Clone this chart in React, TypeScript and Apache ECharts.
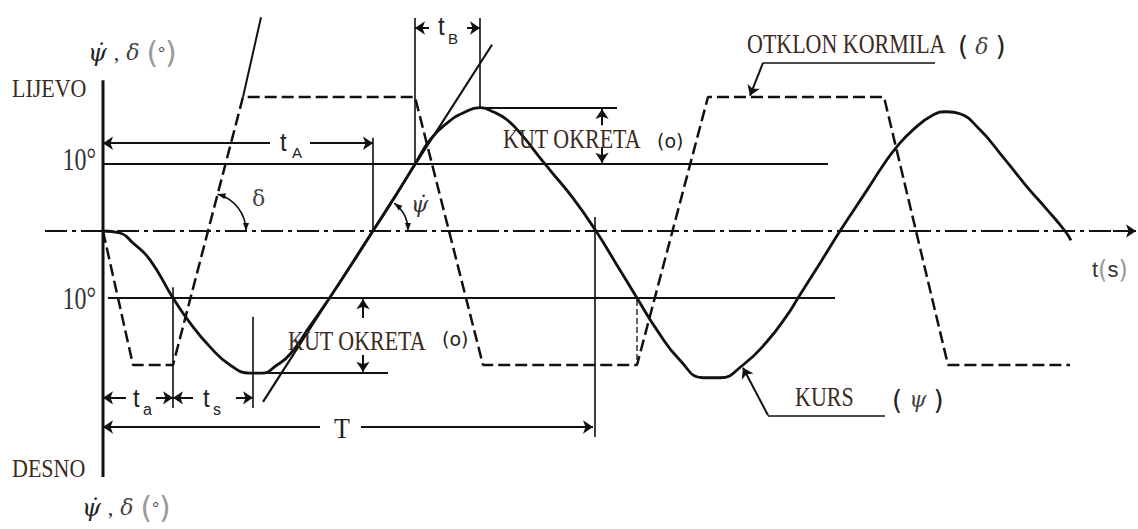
import { useEffect, useRef } from "react";
import * as echarts from "echarts";

// Zig-zag manoeuvre: time t (s, arbitrary units) vs. angle (degrees)
// Course ψ (solid curve)
const HEADING: [number, number][] = [
  [0, 0], [1.7, -0.3], [3.0, -1.8], [4.7, -4.3], [7.0, -10], [8.7, -13.7], [10.7, -17.3],
  [12.7, -20.0], [14.7, -21.2], [15.9, -21.2], [17.4, -20.0], [18.7, -18.4], [20.7, -14.2],
  [22.7, -9.9], [24.9, -4.9], [27.0, 0], [29.2, 5.1], [31.2, 10], [32.7, 13.6], [34.4, 16.1],
  [36.0, 17.6], [37.7, 18.4], [39.0, 17.8], [40.4, 16.6], [41.9, 14.3], [43.5, 11.3],
  [44.7, 9.1], [47.0, 4.9], [49.3, 0], [51.4, -5.1], [53.4, -10], [55.4, -14.8], [57.7, -19.3],
  [60.0, -21.9], [61.7, -21.9], [64.0, -20.0], [66.4, -16.5], [68.4, -12.6], [69.5, -10],
  [71.7, -4.8], [73.7, 0], [76.4, 6.1], [78.1, 10], [79.4, 12.6], [81.0, 15.1], [83.0, 17.3],
  [84.4, 17.8], [85.7, 17.5], [87.7, 15.1], [89.7, 11.6], [92.4, 6.6], [94.4, 3.2], [96.2, 0],
  [96.8, -1.4],
];

// Rudder deflection δ (dashed trapezoid)
const RUDDER: [number, number][] = [
  [0, 0], [3.0, -20], [7.0, -20], [14.0, 20], [31.2, 20], [38.0, -20], [53.4, -20],
  [60.5, 20], [78.1, 20], [84.5, -20], [96.7, -20],
];
const RUDDER_EXTENSION: [number, number][] = [[14.0, 20], [15.8, 31.9]];

// Reference levels
const LIMIT_UP: [number, number][] = [[0, 10], [72.5, 10]];
const LIMIT_DOWN: [number, number][] = [[0.5, -10], [73.2, -10]];
const ZERO_LINE: [number, number][] = [[-5.8, 0], [102.5, 0]];
const Y_AXIS_LINE: [number, number][] = [[0, 22.5], [0, -36.7]];

// Construction lines (no arrows)
const GUIDES: [number, number][][] = [
  [[7.0, -8.4], [7.0, -26.4]],
  [[15.0, -12.8], [15.0, -26.4]],
  [[27.0, 13.9], [27.0, 0]],
  [[31.2, 31.8], [31.2, 10]],
  [[37.7, 31.8], [37.7, 18.4]],
  [[49.2, 2.1], [49.2, -30.75]],
  [[83.2, 25.1], [66.0, 25.1]],
  [[78.2, -27.5], [66.5, -27.5]],
];
const OVERSHOOT_LINES: [number, number][][] = [
  [[15.0, -21.2], [28.5, -21.2]],
  [[37.7, 18.4], [51.4, 18.4]],
];
const TANGENT: [number, number][] = [[16.0, -25.5], [38.9, 27.8]];
const SWITCH_MARK: [number, number][] = [[53.4, -10.3], [53.4, -20]];

// Dimension arrows: [from, to] with arrowhead at "to"
const ARROWS: [number, number][][] = [
  [[16.7, 13.1], [0, 13.1]],
  [[20.7, 13.1], [27.0, 13.1]],
  [[32.6, 30.3], [31.2, 30.3]],
  [[36.4, 30.3], [37.7, 30.3]],
  [[2.3, -24.9], [0, -24.9]],
  [[5.3, -24.9], [7.0, -24.9]],
  [[9.0, -24.9], [7.0, -24.9]],
  [[13.3, -24.9], [15.0, -24.9]],
  [[21.7, -29.25], [0, -29.25]],
  [[25.8, -29.25], [49.0, -29.25]],
  [[26.0, -13.0], [26.0, -10.2]],
  [[26.0, -18.5], [26.0, -21.0]],
  [[49.9, 15.8], [49.9, 18.2]],
  [[49.9, 12.5], [49.9, 10.2]],
  [[66.0, 25.1], [64.7, 20.2]],
  [[66.5, -27.5], [64.0, -20.4]],
  [[101.0, 0], [103.3, 0]],
];

// Angle arcs: [centre, start point, end point]
const ARCS: [number, number][][] = [
  [[10.5, 0], [11.5, 5.8], [14.3, 0]],
  [[27.0, 0], [29.2, 4.3], [30.5, 0]],
];

type Txt = {
  t: number; d: number; text: string; size: number; family: string; color: string;
  align?: "left" | "center" | "right"; sy?: number; italic?: boolean; rich?: any;
};

const BROWN = "#3b2a1e";
const SERIF = "Liberation Serif";
const SANS = "Liberation Sans";
const AXIS_TITLE = "{p|ψ\u0307} {c|,} {d|δ} {r|(}{o|°}{r|)}";

const LABELS: Txt[] = [
  { t: -9.1, d: 21.3, text: "LIJEVO", size: 22, family: SERIF, color: BROWN, sy: 1.1 },
  { t: -9.1, d: -35.4, text: "DESNO", size: 22, family: SERIF, color: BROWN, sy: 1.1 },
  { t: -0.7, d: 10.7, text: "10°", size: 24, family: SERIF, color: "#333", align: "right", sy: 1.3 },
  { t: -0.7, d: -10.0, text: "10°", size: 24, family: SERIF, color: "#333", align: "right", sy: 1.3 },
  { t: -1.5, d: 26.6, text: AXIS_TITLE, size: 22, family: "DejaVu Serif", color: "#222", rich: true },
  { t: -2.1, d: -41.3, text: AXIS_TITLE, size: 22, family: "DejaVu Serif", color: "#222", rich: true },
  { t: 17.7, d: 13.4, text: "t", size: 24, family: SANS, color: "#222", sy: 1.1 },
  { t: 18.9, d: 11.7, text: "A", size: 15, family: SANS, color: "#222" },
  { t: 33.5, d: 30.6, text: "t", size: 24, family: SANS, color: "#222", sy: 1.1 },
  { t: 34.5, d: 28.8, text: "B", size: 15, family: SANS, color: "#222" },
  { t: 3.0, d: -24.9, text: "t", size: 24, family: SANS, color: "#222", sy: 1.1 },
  { t: 4.0, d: -26.6, text: "a", size: 16, family: SANS, color: "#222" },
  { t: 10.0, d: -24.9, text: "t", size: 24, family: SANS, color: "#222", sy: 1.1 },
  { t: 11.0, d: -26.7, text: "s", size: 16, family: SANS, color: "#222" },
  { t: 23.9, d: -29.4, text: "T", size: 26, family: SERIF, color: "#222", align: "center", sy: 1.15 },
  { t: 14.9, d: 4.9, text: "δ", size: 22, family: "DejaVu Serif", color: "#444" },
  { t: 30.8, d: 3.9, text: "ψ\u0307", size: 22, family: "DejaVu Serif", color: "#333", italic: true },
  { t: 40.0, d: 13.7, text: "KUT OKRETA", size: 22, family: SERIF, color: BROWN, sy: 1.2 },
  { t: 55.4, d: 13.4, text: "(o)", size: 19, family: "DejaVu Sans", color: "#222" },
  { t: 18.5, d: -16.4, text: "KUT OKRETA", size: 22, family: SERIF, color: BROWN, sy: 1.2 },
  { t: 33.9, d: -16.1, text: "(o)", size: 19, family: "DejaVu Sans", color: "#222" },
  { t: 64.4, d: 27.9, text: "OTKLON KORMILA", size: 22, family: SERIF, color: BROWN, sy: 1.2 },
  { t: 85.5, d: 27.6, text: "{q|(} {d|δ} {q|)}", size: 22, family: "DejaVu Serif", color: "#222", rich: true },
  { t: 69.2, d: -24.8, text: "KURS", size: 22, family: SERIF, color: BROWN, sy: 1.2 },
  { t: 78.9, d: -25.2, text: "{q|(} {d|ψ} {q|)}", size: 22, family: "DejaVu Serif", color: "#222", rich: true },
  { t: 98.9, d: -5.8, text: "{t|t}{g|(}{t|s}{g|)}", size: 22, family: SANS, color: "#222", rich: true },
];

const RICH = {
  p: { fontFamily: "DejaVu Serif", fontStyle: "italic", fontSize: 24, fill: "#222" },
  c: { fontFamily: SERIF, fontSize: 22, fill: "#222" },
  d: { fontFamily: "DejaVu Serif", fontStyle: "italic", fontSize: 22, fill: "#444" },
  q: { fontFamily: "DejaVu Sans", fontSize: 26, fill: "#222" },
  r: { fontFamily: "DejaVu Sans", fontSize: 30, fill: "#9a9a9a" },
  o: { fontFamily: SERIF, fontSize: 17, fill: "#333" },
  t: { fontFamily: SANS, fontSize: 22, fill: "#333" },
  g: { fontFamily: "DejaVu Sans", fontSize: 24, fill: "#999" },
};

const X_MIN = -10.3;
const X_MAX = 103.5;
const Y_MIN = -298 / 6.7;
const Y_MAX = 231 / 6.7;

const INK = "#111";

function arrowHead(tip: number[], ux: number, uy: number, len = 9, half = 3.5) {
  const bx = tip[0] - ux * len;
  const by = tip[1] - uy * len;
  const nx = -uy;
  const ny = ux;
  return {
    type: "polygon",
    shape: { points: [[tip[0], tip[1]], [bx + nx * half, by + ny * half], [bx - nx * half, by - ny * half]] },
    style: { fill: INK },
  };
}

export default function App() {
  const ref = useRef<HTMLDivElement>(null);

  useEffect(() => {
    if (!ref.current) return;
    const chart = echarts.init(ref.current, undefined, { renderer: "svg" });

    const lineSeries = (data: [number, number][], width: number, type: any = "solid", smooth: any = false) => ({
      type: "line",
      data,
      symbol: "none",
      smooth,
      silent: true,
      lineStyle: { color: INK, width, type },
      z: 2,
    });

    chart.setOption({
      animation: false,
      backgroundColor: "#ffffff",
      grid: { left: 0, right: 0, top: 0, bottom: 0 },
      xAxis: { type: "value", min: X_MIN, max: X_MAX, show: false },
      yAxis: { type: "value", min: Y_MIN, max: Y_MAX, show: false },
      series: [
        lineSeries(ZERO_LINE, 2, [22, 5, 4, 5]),
        lineSeries(Y_AXIS_LINE, 3),
        lineSeries(LIMIT_UP, 2.2),
        lineSeries(LIMIT_DOWN, 2.2),
        lineSeries(RUDDER, 2.5, [12, 5]),
        lineSeries(RUDDER_EXTENSION, 2),
        lineSeries(SWITCH_MARK, 1.3, [6, 3]),
        lineSeries(HEADING, 2.8, "solid", 0.5),
        {
          type: "lines",
          coordinateSystem: "cartesian2d",
          silent: true,
          symbol: "none",
          lineStyle: { color: INK, width: 1.6, opacity: 1, curveness: 0 },
          data: GUIDES.map((c) => ({ coords: c })),
        },
        {
          type: "lines",
          coordinateSystem: "cartesian2d",
          silent: true,
          symbol: "none",
          lineStyle: { color: INK, width: 2.2, opacity: 1, curveness: 0 },
          data: [...OVERSHOOT_LINES.map((c) => ({ coords: c })), { coords: TANGENT }],
        },
        {
          type: "lines",
          coordinateSystem: "cartesian2d",
          silent: true,
          symbol: ["none", "arrow"],
          symbolSize: 10,
          lineStyle: { color: INK, width: 2, opacity: 1, curveness: 0 },
          data: ARROWS.map((c) => ({ coords: c })),
        },
        {
          type: "custom",
          silent: true,
          clip: false,
          data: ARCS.map((a, i) => [a[0][0], a[0][1], i]),
          renderItem: (_p: any, api: any) => {
            const a = ARCS[api.value(2)];
            const c = api.coord(a[0]);
            const s = api.coord(a[1]);
            const e = api.coord(a[2]);
            const r = Math.hypot(e[0] - c[0], e[1] - c[1]);
            const t1 = Math.atan2(s[1] - c[1], s[0] - c[0]);
            const t2 = Math.atan2(e[1] - c[1], e[0] - c[0]);
            const sp = [c[0] + r * Math.cos(t1), c[1] + r * Math.sin(t1)];
            const ep = [c[0] + r * Math.cos(t2), c[1] + r * Math.sin(t2)];
            return {
              type: "group",
              children: [
                {
                  type: "arc",
                  shape: { cx: c[0], cy: c[1], r, startAngle: t1, endAngle: t2, clockwise: true },
                  style: { stroke: INK, lineWidth: 1.6, fill: "none" },
                },
                arrowHead(ep, -Math.sin(t2), Math.cos(t2), 8, 3),
                arrowHead(sp, Math.sin(t1), -Math.cos(t1), 8, 3),
              ],
            };
          },
        },
        {
          type: "custom",
          silent: true,
          clip: false,
          z: 5,
          data: LABELS.map((l, i) => [l.t, l.d, i]),
          renderItem: (_p: any, api: any) => {
            const l = LABELS[api.value(2)];
            const p = api.coord([api.value(0), api.value(1)]);
            const style: any = {
              text: l.text,
              fontSize: l.size,
              fontFamily: l.family,
              fontStyle: l.italic ? "italic" : "normal",
              fill: l.color,
              align: l.align ?? "left",
              verticalAlign: "middle",
            };
            if (l.rich) style.rich = RICH;
            return {
              type: "text",
              x: p[0],
              y: p[1],
              scaleY: l.sy ?? 1,
              style,
            };
          },
        },
      ],
    });

    return () => chart.dispose();
  }, []);

  return (
    <div
      ref={ref}
      style={{ position: "absolute", left: 0, top: 0, width: 1138, height: 529, background: "#fff" }}
    />
  );
}
